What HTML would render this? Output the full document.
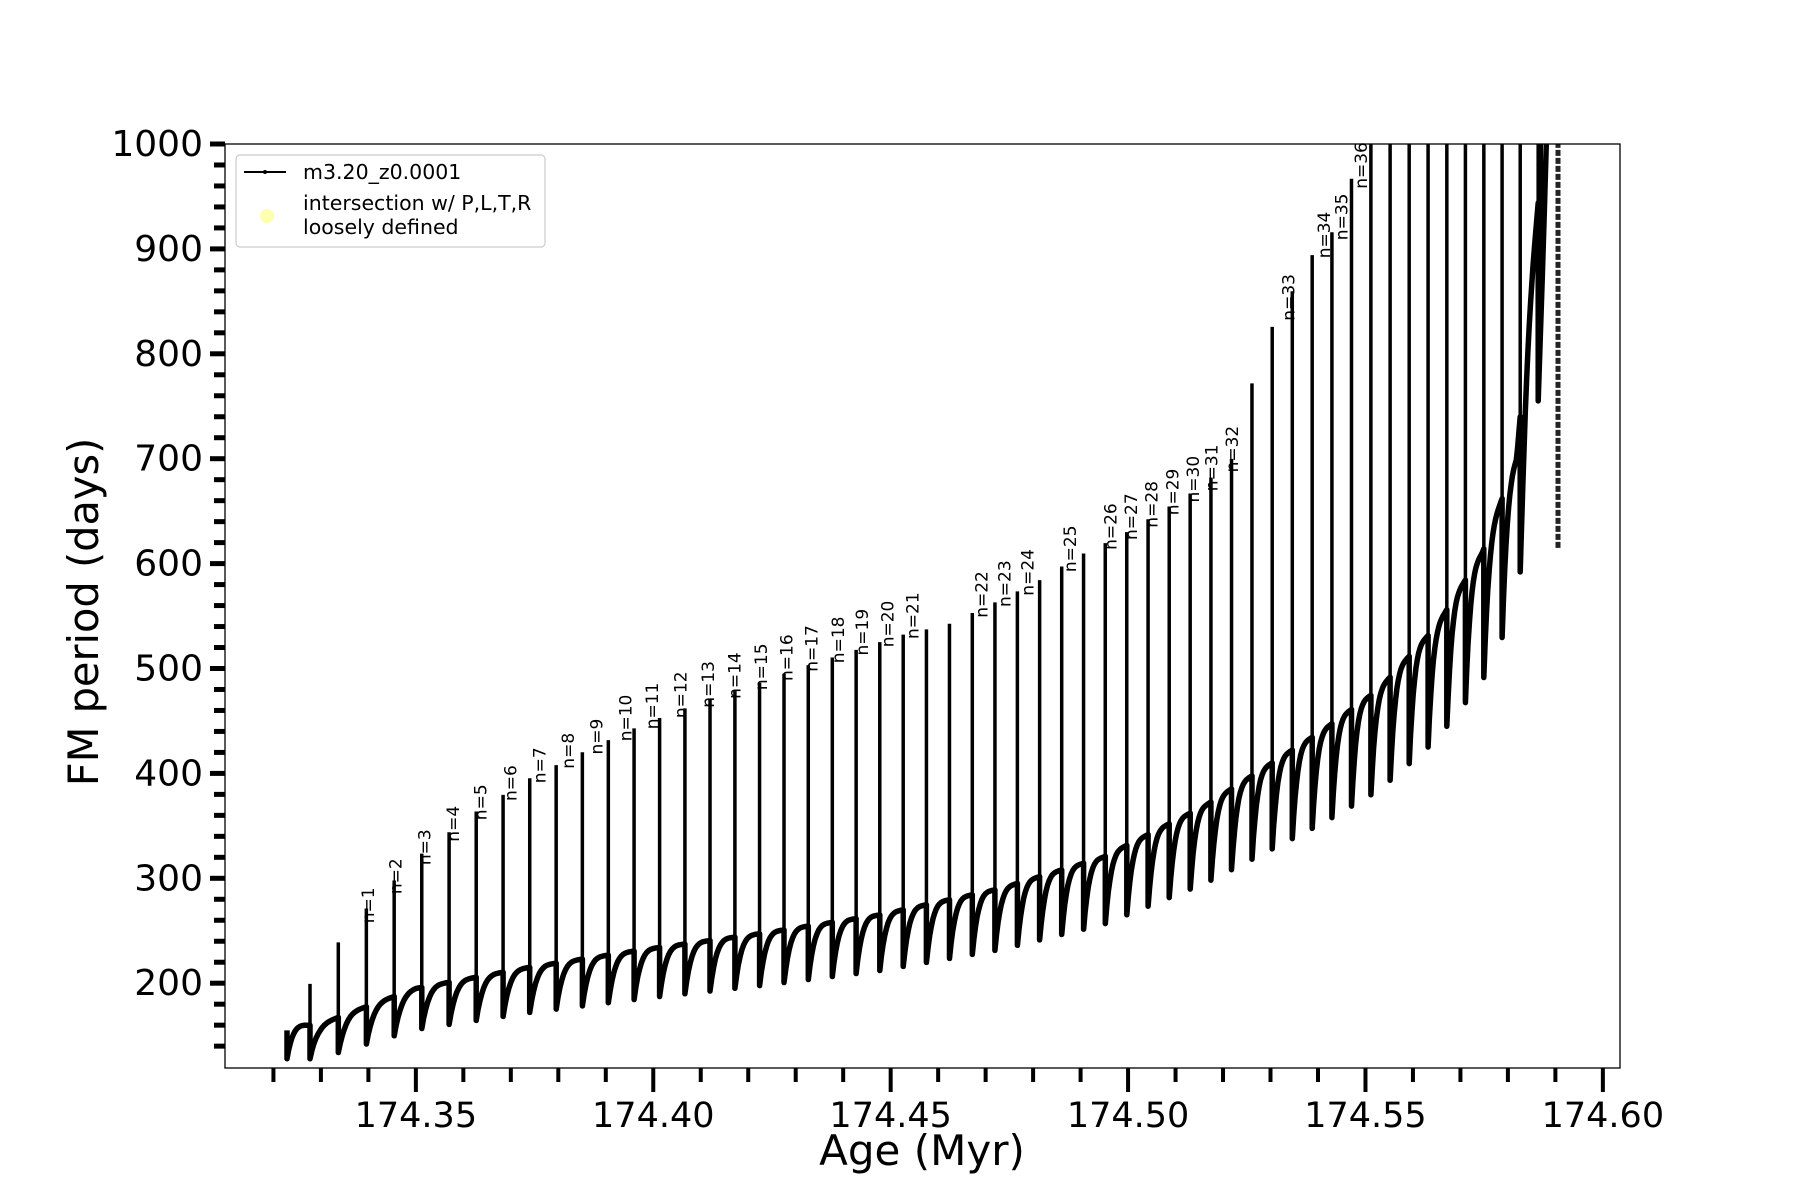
<!DOCTYPE html>
<html><head><meta charset="utf-8"><style>body{margin:0;background:#fff}svg{display:block}</style></head>
<body>
<svg id="s" width="1800" height="1200" xmlns="http://www.w3.org/2000/svg" font-family="DejaVu Sans, Liberation Sans, sans-serif">
<defs><clipPath id="c"><rect x="225" y="144" width="1395" height="924"/></clipPath></defs>
<rect width="1800" height="1200" fill="#fff"/>
<g id="plot" clip-path="url(#c)"></g>
<g id="lbl" font-size="17" fill="#000"></g>
<rect x="225" y="144" width="1395" height="924" fill="none" stroke="#000" stroke-width="1.3"/>
<g id="ax"></g>
<g>
<rect x="236" y="155" width="309" height="92" rx="4" fill="#fff" fill-opacity="0.8" stroke="#ccc" stroke-width="1.2"/>
<line x1="244" y1="172" x2="286" y2="172" stroke="#000" stroke-width="2"/>
<circle cx="265" cy="172" r="2" fill="#000"/>
<text x="303" y="179" font-size="20.5">m3.20_z0.0001</text>
<circle cx="267" cy="216" r="7" fill="#ffffb0"/>
<text x="303" y="210" font-size="20.5">intersection w/ P,L,T,R</text>
<text x="303" y="234" font-size="20.5">loosely defined</text>
</g>
<text x="922" y="1165" font-size="42" text-anchor="middle">Age (Myr)</text>
<text transform="translate(98,612) rotate(-90)" font-size="41.5" text-anchor="middle">FM period (days)</text>
</svg>
<script>
const S=1.149;
const Y=p=>144+(1000-p)*1.049;
const X=v=>225+(v-174.3098)/0.05*237.4;
function interp(pts,x){if(x<=pts[0][0])return pts[0][1];for(let i=1;i<pts.length;i++){if(x<=pts[i][0]){const a=pts[i-1],b=pts[i];return a[1]+(b[1]-a[1])*(x-a[0])/(b[0]-a[0]);}}return pts[pts.length-1][1];}
const baseP=[[278,160],[300,170],[362,195],[460,215],[560,232],[660,247],[765,265],[870,290],[960,320],[1050,370],[1100,405],[1150,440],[1200,480],[1250,540],[1290,610],[1320,700],[1343,1000],[1360,1400]].map(p=>[p[0]*S,p[1]]);
const peakP=[[250,175],[272,202],[293,237],[316,268],[363,320],[412,362],[462,396],[512,423],[560,447],[608,467],[655,484],[700,502],[743,517],[785,532],[825,542],[864,562],[903,583],[940,608],[976,627],[1011,650],[1045,673],[1077,705],[1094,795],[1110,832],[1126,862],[1141,893],[1157,910],[1172,950],[1187,1010],[1400,1100]].map(p=>[p[0]*S,p[1]]);
const base=x=>interp(baseP,x), peak=x=>interp(peakP,x);
let sp=[];let x=310;while(x<=1543){sp.push(x);x+=28.3-(x-310)*10.6/1240;}
let g='';
let d='';let x0=287,m0=base(287)*0.8;
d+=`M${x0},${Y(base(287)-5)}L${x0},${Y(m0)}`;
let prev=x0,pm=m0;
for(const s of sp){for(let i=1;i<=14;i++){const t=i/14;const xx=prev+t*(s-prev);const f=1-Math.pow(1-t,4);const v=pm+(base(xx)-pm)*f;d+=`L${xx.toFixed(1)},${Y(v).toFixed(1)}`;}
 const m=base(s)*0.8;d+=`L${s.toFixed(1)},${Y(m).toFixed(1)}`;prev=s;pm=m;}
for(let i=1;i<=10;i++){const xx=prev+i*2;d+=`L${xx},${Y(pm+(base(xx)-pm)*(1-Math.pow(1-i/10,3)))}`;}
g+=`<path d="${d}" fill="none" stroke="#000" stroke-width="5.5" stroke-linejoin="round"/>`;
for(const s of sp){const m=base(s)*0.8;g+=`<line x1="${s}" y1="${Y(m)}" x2="${s}" y2="${Y(peak(s))}" stroke="#000" stroke-width="3.5"/>`;}
g+=`<line x1="1558" y1="${Y(615)}" x2="1558" y2="${Y(1000)}" stroke="#222" stroke-width="5" stroke-dasharray="6 2"/>`;
g+=`<line x1="1541" y1="${Y(830)}" x2="1541" y2="${Y(1000)}" stroke="#000" stroke-width="4"/>`;
document.getElementById('plot').innerHTML=g;
const lx=[316,340,365,390,414,440,465,490,515,540,563,588,612,635,658,680,702,725,746,768,790,850,870,890,927,962,980,998,1016,1034,1050,1068,1117,1148,1163,1180];
let L='';lx.forEach((v,i)=>{const sx=v*S-6;let pk=peak(sx);if(pk>985)pk=985;const tx=sx+17,ty=Y(pk)+4;L+=`<text transform="translate(${tx.toFixed(1)},${ty.toFixed(1)}) rotate(-90)">n=${i+1}</text>`;});
document.getElementById('lbl').innerHTML=L;
let a='';
for(let v=200;v<=1000;v+=100){const y=Y(v);a+=`<line x1="210" y1="${y}" x2="225" y2="${y}" stroke="#000" stroke-width="5"/><text x="203" y="${y+12}" font-size="36" text-anchor="end">${v}</text>`;}
for(let v=140;v<1000;v+=20){if(v%100==0)continue;const y=Y(v);a+=`<line x1="214" y1="${y}" x2="225" y2="${y}" stroke="#000" stroke-width="5"/>`;}
for(let k=32;k<=60;k++){const v=174+k/100;const xx=X(v);const maj=k%5==0;a+=`<line x1="${xx}" y1="1068" x2="${xx}" y2="${maj?1092:1082}" stroke="#000" stroke-width="4"/>`;if(maj)a+=`<text x="${xx}" y="1127" font-size="35" text-anchor="middle">${v.toFixed(2)}</text>`;}
document.getElementById('ax').innerHTML=a;
</script>
</body></html>
